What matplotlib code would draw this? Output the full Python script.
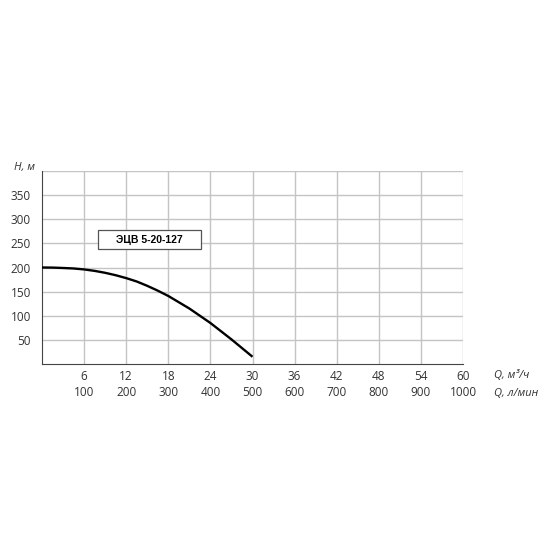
import numpy as np
import matplotlib
matplotlib.use("Agg")
from matplotlib import pyplot as plt
from matplotlib.patches import Rectangle

# Pump curve ЭЦВ 5-20-127
q_m3h = [0, 1.5, 3, 4.5, 6, 7.5, 9, 10.5, 12, 13.5, 15, 16.5, 18, 19.5,
         21, 22.5, 24, 25.5, 27, 28.5, 30]
head_m = [200, 199.8, 199, 198, 196, 193, 189, 184, 178, 171, 162, 152,
          141, 128, 115, 100, 85, 68, 51, 33, 15]

x_ticks = [6, 12, 18, 24, 30, 36, 42, 48, 54, 60]
x_ticks_lmin = [100, 200, 300, 400, 500, 600, 700, 800, 900, 1000]
y_ticks = [50, 100, 150, 200, 250, 300, 350]
y_grid = [50, 100, 150, 200, 250, 300, 350, 400]

plt.rcParams['font.family'] = ['Open Sans', 'DejaVu Sans']

fig = plt.figure(figsize=(5.5, 5.5), dpi=100)
ax = fig.add_axes([42 / 550, 1 - 364 / 550, 421 / 550, 193 / 550])

ax.set_xlim(0, 60)
ax.set_ylim(0, 400)

for x in x_ticks:
    ax.axvline(x, color='#c4c4c4', lw=1.0, zorder=0)
for y in y_grid:
    ax.axhline(y, color='#c4c4c4', lw=1.0, zorder=0)

ax.plot(q_m3h, head_m, color='black', lw=1.7, zorder=3,
        solid_joinstyle='round', solid_capstyle='butt')

for s in ['top', 'right']:
    ax.spines[s].set_visible(False)
ax.spines['left'].set_color('#444444')
ax.spines['bottom'].set_color('#444444')

ax.set_xticks(x_ticks)
ax.set_xticklabels([f"{a}\n{b}" for a, b in zip(x_ticks, x_ticks_lmin)],
                   fontsize=8.5, color='#333333', linespacing=1.3)
ax.set_yticks(y_ticks)
ax.set_yticklabels([str(v) for v in y_ticks], fontsize=8.5, color='#333333')
ax.tick_params(axis='x', length=0, pad=4)
ax.tick_params(axis='y', length=0, pad=8)

# legend box
ax.add_patch(Rectangle((8.0, 238), 14.7, 39.5, facecolor='white',
                       edgecolor='#555555', lw=0.9, zorder=5))
ax.text(15.35, 258, "ЭЦВ 5-20-127", fontsize=7.5, fontweight='bold',
        family='Liberation Sans', ha='center', va='center', zorder=6)

fig.text(14 / 550, 1 - 167 / 550, "H, м", fontsize=8, style='italic',
         color='#333333', ha='left', va='center')
fig.text(494 / 550, 1 - 376 / 550, "Q, м³/ч", fontsize=8, style='italic',
         color='#333333', ha='left', va='center')
fig.text(494 / 550, 1 - 393 / 550, "Q, л/мин", fontsize=8, style='italic',
         color='#333333', ha='left', va='center')

fig.savefig("out.png", dpi=100, facecolor='white')
